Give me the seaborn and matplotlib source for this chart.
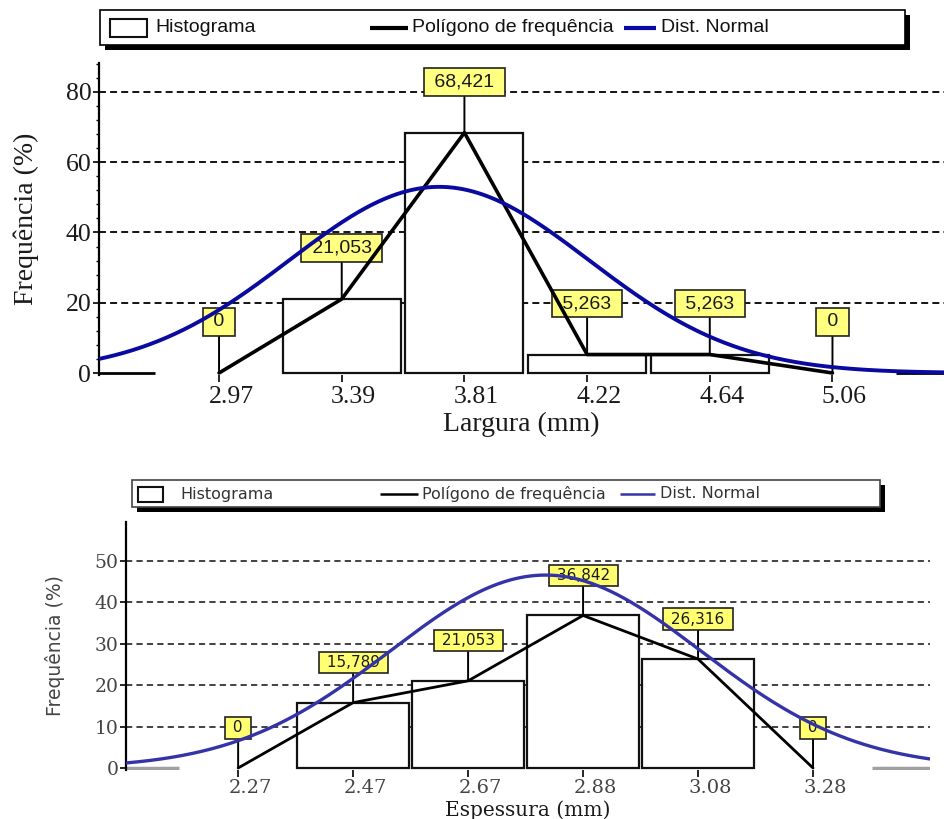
import numpy as np
import pandas as pd
import matplotlib
matplotlib.use("Agg")
import matplotlib.pyplot as plt
import matplotlib.transforms as mtrans
from matplotlib.patches import Rectangle
from matplotlib.ticker import MultipleLocator
import seaborn as sns

# ---------------- data ----------------
larg_mids = [2.97, 3.388, 3.806, 4.224, 4.642, 5.06]
larg_ticklabels = ["2.97", "3.39", "3.81", "4.22", "4.64", "5.06"]
larg_freq = [0.0, 21.053, 68.421, 5.263, 5.263, 0.0]
larg_edge_classes = [2.552, 5.478]
larg_norm = dict(mean=3.72, sd=0.51, peak=53.0)

esp_mids = [2.27, 2.472, 2.674, 2.876, 3.078, 3.28]
esp_ticklabels = ["2.27", "2.47", "2.67", "2.88", "3.08", "3.28"]
esp_freq = [0.0, 15.789, 21.053, 36.842, 26.316, 0.0]
esp_edge_classes = [2.068, 3.482]
esp_norm = dict(mean=2.81, sd=0.273, peak=46.6)

legend_labels = ["Histograma", "Polígono de frequência", "Dist. Normal"]
ylabel_text = "Frequência (%)"
xlabel_top = "Largura (mm)"
xlabel_bot = "Espessura (mm)"

# ---------------- figure ----------------
sns.set_theme(style="white")
plt.rcParams["font.family"] = ["Liberation Sans", "DejaVu Sans"]
plt.rcParams["lines.scale_dashes"] = False

W, H = 944, 819
DPI = 100
fig = plt.figure(figsize=(W / DPI, H / DPI), dpi=DPI)
fig.patch.set_facecolor("white")


def px_box(x0, x1, ytop, ybot):
    return [x0 / W, 1 - ybot / H, (x1 - x0) / W, (ybot - ytop) / H]


def fmt(v):
    return "0" if v == 0 else f"{v:.3f}".replace(".", ",")


def panel(ax, mids, ticklabels, freq, edges, norm, xlim, ylim, yticks, st):
    ax.set_facecolor("white")
    # grid (dashed, above 0 only)
    for t in yticks:
        if t > 0:
            ax.axhline(t, color=st["grid"], lw=st["grid_lw"], ls=(0, st["dash"]), zorder=0.5)
    # histogram bars
    df = pd.DataFrame({"x": mids, "y": freq})
    dfb = df[df["y"] > 0]
    sns.barplot(data=dfb, x="x", y="y", native_scale=True, width=st["bar_frac"],
                color="white", saturation=1, edgecolor=st["bar_ec"], linewidth=st["bar_lw"],
                errorbar=None, ax=ax, zorder=1)
    ax.bar(edges, [0] * len(edges), width=st["bar_w"], color="white",
           edgecolor=st["edge_ec"], linewidth=st["edge_lw"], zorder=1)
    # polygon of frequency
    sns.lineplot(x=mids, y=freq, color="black", lw=st["poly_lw"], sort=False,
                 estimator=None, ax=ax, zorder=3)
    # normal distribution
    xs = np.linspace(xlim[0], xlim[1], 500)
    ys = norm["peak"] * np.exp(-0.5 * ((xs - norm["mean"]) / norm["sd"]) ** 2)
    sns.lineplot(x=xs, y=ys, color=st["norm_c"], lw=st["norm_lw"], estimator=None,
                 ax=ax, zorder=3)
    # value labels
    for m, f in zip(mids, freq):
        ax.annotate(" " + fmt(f) + " ", xy=(m, f), xytext=(0, st["lab_off"]),
                    textcoords="offset pixels", ha="center", va="center",
                    fontsize=st["lab_fs"], family=st["lab_font"], color="#1a1a1a",
                    bbox=dict(boxstyle=f"square,pad={st['lab_pad']}", fc=st["lab_fc"],
                              ec="#222222", lw=1.2),
                    arrowprops=dict(arrowstyle="-", color="black", lw=1.4,
                                    shrinkA=0, shrinkB=0),
                    zorder=2, annotation_clip=False)
    ax.set_xlim(*xlim)
    ax.set_ylim(*ylim)
    ax.set_xticks(mids, ticklabels)
    ax.set_yticks(yticks)
    ax.tick_params(axis="x", which="major", bottom=True, direction="out", length=5,
                   width=1.2, color="black", pad=st["xpad"], labelsize=st["tick_fs"],
                   labelcolor=st["tick_c"])
    ax.tick_params(axis="y", which="major", left=True, direction="out", length=4,
                   width=1.2, color="black", pad=1.5, labelsize=st["ytick_fs"],
                   labelcolor=st["tick_c"])
    for lbl in ax.get_xticklabels() + ax.get_yticklabels():
        lbl.set_family(st["tick_font"])
    off = mtrans.ScaledTranslation(12 / DPI, 0, fig.dpi_scale_trans)
    for lbl in ax.get_xticklabels():
        lbl.set_transform(lbl.get_transform() + off)
    for s in ["top", "right", "bottom"]:
        ax.spines[s].set_visible(False)
    ax.spines["left"].set_color("black")
    ax.spines["left"].set_linewidth(1.6)
    ax.set_xlabel(st["xlabel"], fontsize=st["xl_fs"], family=st["xl_font"], color="#1a1a1a")
    ax.set_ylabel(ylabel_text, fontsize=st["yl_fs"], family=st["yl_font"], color=st["yl_c"])
    ax.xaxis.label.set_va("center")
    ax.yaxis.label.set_va("center")
    ax.xaxis.set_label_coords(0.5, st["xl_y"])
    ax.yaxis.set_label_coords(st["yl_x"], 0.5)


# ---- top panel (Largura) ----
sc_t = 281 / 80.0
ylim_t = (-0.5, 88.3)
ybot_t = 373 + 0.5 * sc_t
ytop_t = ybot_t - (ylim_t[1] - ylim_t[0]) * sc_t
ax1 = fig.add_axes(px_box(99, 944, ytop_t, ybot_t))
st_top = dict(grid="black", grid_lw=1.3, dash=(5, 3), bar_frac=0.962, bar_w=0.402,
              bar_ec="#111111", bar_lw=1.6, edge_ec="black", edge_lw=2.0,
              poly_lw=2.6, norm_c="#0a0aa0", norm_lw=2.8,
              lab_off=51, lab_fs=14, lab_font="Liberation Sans", lab_pad=0.28,
              lab_fc="#ffff80", xpad=3, tick_fs=18.5, ytick_fs=18.5, tick_c="#1a1a1a",
              tick_font="Liberation Serif", xlabel=xlabel_top, xl_fs=20,
              xl_font="Liberation Serif", yl_fs=20, yl_font="Liberation Serif",
              yl_c="#1a1a1a", xl_y=-(422 - 373) / 310, yl_x=(26 - 99) / 845)
panel(ax1, larg_mids, larg_ticklabels, larg_freq, larg_edge_classes, larg_norm,
      (2.561, 5.440), ylim_t, [0, 20, 40, 60, 80], st_top)
ax1.yaxis.set_minor_locator(MultipleLocator(4))
ax1.tick_params(axis="y", which="minor", left=True, direction="out", length=2.2,
                width=1.0, color="black")

# ---- bottom panel (Espessura) ----
sc_b = 207 / 50.0
ylim_b = (-0.4, 59.4)
ybot_b = 768 + 0.4 * sc_b
ytop_b = ybot_b - (ylim_b[1] - ylim_b[0]) * sc_b
ax2 = fig.add_axes(px_box(126, 930, ytop_b, ybot_b))
st_bot = dict(grid="#333333", grid_lw=1.3, dash=(4.5, 3), bar_frac=0.974, bar_w=0.197,
              bar_ec="#111111", bar_lw=1.6, edge_ec="#a0a0a0", edge_lw=2.5,
              poly_lw=2.0, norm_c="#3434a8", norm_lw=2.4,
              lab_off=40, lab_fs=11, lab_font="DejaVu Sans", lab_pad=0.2,
              lab_fc="#ffff70", xpad=2, tick_fs=14, ytick_fs=13.5, tick_c="#444444",
              tick_font="DejaVu Serif", xlabel=xlabel_bot, xl_fs=14.5,
              xl_font="DejaVu Serif", yl_fs=13.5, yl_font="DejaVu Sans",
              yl_c="#444444", xl_y=-(808 - 768) / 246, yl_x=(55 - 126) / 804)
panel(ax2, esp_mids, esp_ticklabels, esp_freq, esp_edge_classes, esp_norm,
      (2.073, 3.4855), ylim_b, [0, 10, 20, 30, 40, 50], st_bot)

# ---------------- legends (overlay in pixel coords) ----------------
ov = fig.add_axes([0, 0, 1, 1], zorder=10)
ov.set_xlim(0, W)
ov.set_ylim(H, 0)
ov.axis("off")


def legend_box(x0, y0, w, h, shadow, ec, lw):
    ov.add_patch(Rectangle((x0 + shadow, y0 + shadow), w, h, fc="black", ec="none"))
    ov.add_patch(Rectangle((x0, y0), w, h, fc="white", ec=ec, lw=lw))


def legend_items(yc, patch, t1x, l1, t2x, l2, t3x, font, fs, tc, line_lw, blue):
    px, pw, ph = patch
    ov.add_patch(Rectangle((px, yc - ph / 2), pw, ph, fc="white", ec="#111111", lw=1.5))
    ov.text(t1x, yc, legend_labels[0], ha="left", va="center", fontsize=fs, family=font, color=tc)
    ov.plot(l1, [yc, yc], color="black", lw=line_lw, solid_capstyle="butt")
    ov.text(t2x, yc, legend_labels[1], ha="left", va="center", fontsize=fs, family=font, color=tc)
    ov.plot(l2, [yc, yc], color=blue, lw=line_lw, solid_capstyle="butt")
    ov.text(t3x, yc, legend_labels[2], ha="left", va="center", fontsize=fs, family=font, color=tc)


legend_box(100, 10, 805, 35, 5, "black", 1.2)
legend_items(28, (110, 37, 18), 155, [370, 408], 412, [624, 656], 661,
             "Liberation Sans", 14, "#111111", 3.0, "#0a0aa0")

legend_box(132, 480, 748, 27, 5, "#444444", 1.2)
legend_items(494, (138, 25, 15), 180, [380, 418], 422, [620, 655], 660,
             "DejaVu Sans", 11.5, "#333333", 1.8, "#3434a8")

fig.savefig("out.png", dpi=DPI, facecolor="white")
